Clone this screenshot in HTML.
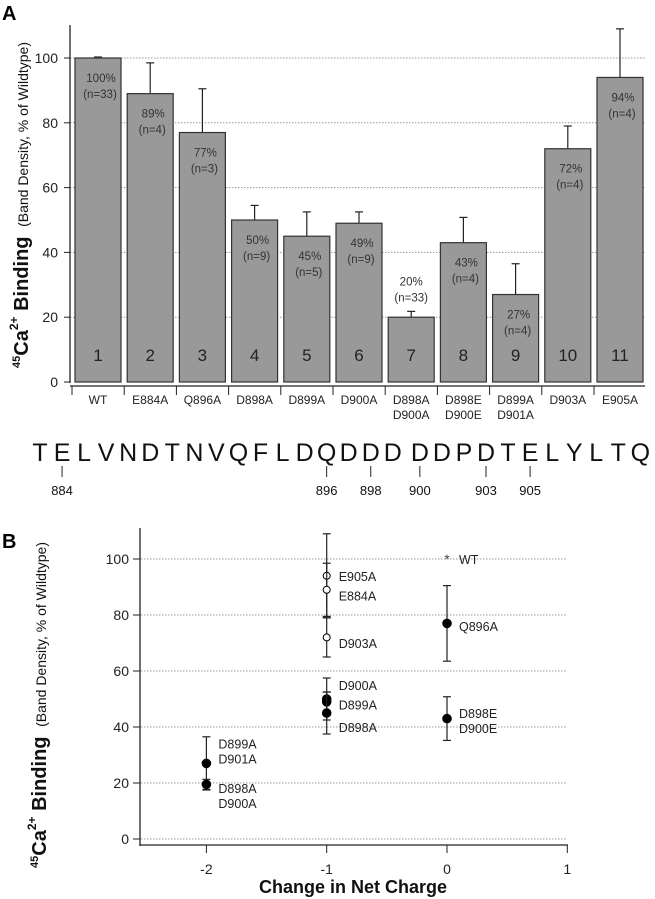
<!DOCTYPE html>
<html><head><meta charset="utf-8"><style>
html,body{margin:0;padding:0;background:#fff;}
svg{display:block;font-family:"Liberation Sans",sans-serif;}
</style></head><body>
<svg id="fig" width="655" height="899" viewBox="0 0 655 899">
<text x="2" y="20" font-size="20" font-weight="bold">A</text>
<text x="2" y="548" font-size="20" font-weight="bold">B</text>
<g id="chartA"></g>
<g id="seq"></g>
<g id="chartB"></g>
</svg>
<script>
// ---- Panel A data ----
const barCategories = ["WT","E884A","Q896A","D898A","D899A","D900A","D898A\nD900A","D898E\nD900E","D899A\nD901A","D903A","E905A"];
const barValues = [100,89,77,50,45,49,20,43,27,72,94];
const barErrors = [0.3,9.5,13.5,4.5,7.5,3.5,1.8,7.8,9.5,7,15];
const barNs = [33,4,3,9,5,9,33,4,4,4,4];
const yTicksA = [0,20,40,60,80,100];
// ---- Sequence ----
const seqLetters = ["T","E","L","V","N","D","T","N","V","Q","F","L","D","Q","D","D","D","D","D","P","D","T","E","L","Y","L","T","Q"];
const seqMarked = [[1,"884"],[13,"896"],[15,"898"],[17,"900"],[20,"903"],[22,"905"]];
// ---- Panel B data ----
const ptNames = ["WT","E905A","E884A","D903A","D900A","D899A","D898A","Q896A","D898E\nD900E","D899A\nD901A","D898A\nD900A"];
const ptCharge = [0,-1,-1,-1,-1,-1,-1,0,0,-2,-2];
const ptValues = [100,94,89,72,49,50,45,77,43,27,19.5];
const ptErrors = [0.3,15,9.5,7,3.5,7.5,7.5,13.5,7.8,9.5,1.8];
const ptOpen = [0,1,1,1,0,0,0,0,0,0,0];
const ptLabelOffset = [0,0,-2,-2,6,-2,-5,-1,-0.7,4.5,-4];
const xTicksB = [-2,-1,0,1];
const yTicksB = [0,20,40,60,80,100];

const NS="http://www.w3.org/2000/svg";
function mk(parent,tag,attrs,text){const e=document.createElementNS(NS,tag);for(const k in attrs)e.setAttribute(k,attrs[k]);if(text!==undefined)e.textContent=text;parent.appendChild(e);return e;}

// Panel A
const A=document.getElementById('chartA');
const yA=v=>382-3.24*v;
const barX=i=>75+i*52.2;
const BW=46;
yTicksA.forEach(t=>{
  if(t>0){const g=mk(A,'line',{x1:70,x2:646,y1:yA(t),y2:yA(t),stroke:'#999','stroke-dasharray':'1.5,1.5','stroke-width':1});
  }
  const tk=mk(A,'line',{x1:64,x2:70,y1:yA(t),y2:yA(t),stroke:'#222'});
  
  const l=mk(A,'text',{x:58,y:yA(t)+5,'font-size':14,'text-anchor':'end',fill:'#222'},String(t));
  
});
mk(A,'line',{x1:70,x2:70,y1:25,y2:383,stroke:'#222','stroke-width':1.3});
barValues.forEach((v,i)=>{
  const x=barX(i);
  const e=barErrors[i];
  const eb=mk(A,'line',{x1:x+BW/2,x2:x+BW/2,y1:yA(v),y2:yA(v+e),stroke:'#222','stroke-width':1.2});
  
  mk(A,'line',{x1:x+BW/2-4,x2:x+BW/2+4,y1:yA(v+e),y2:yA(v+e),stroke:'#222','stroke-width':1.2});
  const r=mk(A,'rect',{x:x,y:yA(v),width:BW,height:yA(0)-yA(v),fill:'#999',stroke:'#333','stroke-width':1.2});
  
  const inside = v>25;
  const ty = inside ? yA(v)+24 : yA(v+e)-26;
  const t1=mk(A,'text',{x:x+BW/2+(inside?3:0),y:ty,'font-size':11.5,'text-anchor':'middle',fill:'#333'},v+'%');
  
  const t2=mk(A,'text',{x:x+BW/2+(inside?2:0),y:ty+16,'font-size':11.5,'text-anchor':'middle',fill:'#333'},'(n='+barNs[i]+')');
  
  const t3=mk(A,'text',{x:x+BW/2,y:361,'font-size':17,'text-anchor':'middle',fill:'#222'},String(i+1));
  
  const tk=mk(A,'line',{x1:x-3,x2:x-3,y1:386,y2:395,stroke:'#222'});
  
  barCategories[i].split('\n').forEach((s,j)=>{
    const c=mk(A,'text',{x:x+BW/2,y:404+j*15,'font-size':12,'text-anchor':'middle',fill:'#222'},s);
    
  });
});
mk(A,'line',{x1:70,x2:645,y1:386,y2:386,stroke:'#222','stroke-width':1.2});
const ytA=mk(A,'text',{transform:'translate(28,205) rotate(-90)','text-anchor':'middle',fill:'#111'});

ytA.innerHTML='<tspan font-size="11" font-weight="bold" dy="-8">45</tspan><tspan font-size="20" font-weight="bold" dy="8">Ca</tspan><tspan font-size="12" font-weight="bold" dy="-10">2+</tspan><tspan font-size="20" font-weight="bold" dy="10"> Binding </tspan><tspan font-size="14" dx="4">(Band Density,  % of Wildtype)</tspan>';

// Sequence
const S=document.getElementById('seq');
const seqX=i=>40+i*22.05+(i>=17?5:0);
seqLetters.forEach((L,i)=>{
  const t=mk(S,'text',{x:seqX(i),y:461,'font-size':25,'text-anchor':'middle',fill:'#111'},L);
  
});
seqMarked.forEach(([i,n])=>{
  const x=seqX(i);
  const l=mk(S,'line',{x1:x,x2:x,y1:466,y2:477,stroke:'#222'});
  
  const t=mk(S,'text',{x:x,y:495,'font-size':13,'text-anchor':'middle',fill:'#111'},n);
  
});

// Panel B
const B=document.getElementById('chartB');
const xB=c=>447+120.3*c;
const yB=v=>839-2.8*v;
yTicksB.forEach(t=>{
  const g=mk(B,'line',{x1:141,x2:567,y1:yB(t),y2:yB(t),stroke:'#999','stroke-dasharray':'1.5,1.5'});
  
  mk(B,'line',{x1:133,x2:140,y1:yB(t),y2:yB(t),stroke:'#222'});
  const l=mk(B,'text',{x:129,y:yB(t)+5,'font-size':14,'text-anchor':'end',fill:'#222'},String(t));
  
});
mk(B,'line',{x1:140,x2:140,y1:528,y2:846,stroke:'#222','stroke-width':1.3});
mk(B,'line',{x1:140,x2:568,y1:845,y2:845,stroke:'#222','stroke-width':1.3});
xTicksB.forEach(t=>{
  mk(B,'line',{x1:xB(t),x2:xB(t),y1:845,y2:853,stroke:'#222'});
  const l=mk(B,'text',{x:xB(t),y:874,'font-size':14,'text-anchor':'middle',fill:'#222'},String(t));
  
});
const xt=mk(B,'text',{x:353,y:893,'font-size':18,'font-weight':'bold','text-anchor':'middle',fill:'#111'},'Change in Net Charge');

const ytB=mk(B,'text',{transform:'translate(46,705) rotate(-90)','text-anchor':'middle',fill:'#111'});

ytB.innerHTML='<tspan font-size="11" font-weight="bold" dy="-8">45</tspan><tspan font-size="20" font-weight="bold" dy="8">Ca</tspan><tspan font-size="12" font-weight="bold" dy="-10">2+</tspan><tspan font-size="20" font-weight="bold" dy="10"> Binding </tspan><tspan font-size="14" dx="4">(Band Density,  % of Wildtype)</tspan>';
ptValues.forEach((v,i)=>{
  const x=xB(ptCharge[i]), y=yB(v), e=ptErrors[i];
  if(e>1){
    const eb=mk(B,'line',{x1:x,x2:x,y1:yB(v-e),y2:yB(v+e),stroke:'#222','stroke-width':1.2});
    
    mk(B,'line',{x1:x-4,x2:x+4,y1:yB(v-e),y2:yB(v-e),stroke:'#222','stroke-width':1.2});
    mk(B,'line',{x1:x-4,x2:x+4,y1:yB(v+e),y2:yB(v+e),stroke:'#222','stroke-width':1.2});
  }
  let p;
  if(ptNames[i]==='WT'){
    p=mk(B,'text',{x:x,y:y+5,'font-size':14,'text-anchor':'middle',fill:'#444'},'*');
  } else {
    p=mk(B,'circle',{cx:x,cy:y,r:ptOpen[i]?3.5:4.3,fill:ptOpen[i]?'#fff':'#000',stroke:'#000','stroke-width':1});
  }
  
  
  const lines=ptNames[i].split('\n');
  lines.forEach((s,j)=>{
    const ly=yB(v+ptLabelOffset[i])+5+(j-(lines.length-1)/2)*15;
    const t=mk(B,'text',{x:x+12,y:ly,'font-size':12.5,fill:'#222'},s);
    
  });
});
</script>
</body></html>
